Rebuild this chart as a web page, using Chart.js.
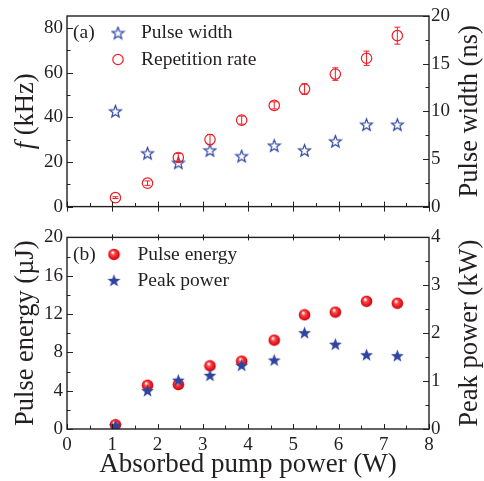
<!DOCTYPE html>
<html lang="en">
<head>
<meta charset="UTF-8">
<title>Pulse chart</title>
<script src="https://cdn.jsdelivr.net/npm/chart.js"></script>
<style>
  body { margin: 0; background: #fff; }
  #wrap { position: relative; width: 484px; height: 481px; }
  canvas { position: absolute; left: 0; }
</style>
</head>
<body>
<div id="wrap">
  <canvas id="topChart" width="484" height="222" style="top:0"></canvas>
  <canvas id="bottomChart" width="484" height="259" style="top:222px"></canvas>
</div>
<script>
// absorbed pump power (W), shared x values
const pumpPower = [1.07, 1.78, 2.46, 3.16, 3.86, 4.58, 5.25, 5.93, 6.62, 7.30];

// panel (a)
const repRate    = [4.0, 10.5, 22.0, 30.0, 38.7, 45.3, 52.6, 59.3, 66.4, 76.5]; // kHz
const repRateErr = [0.4, 1.0, 1.8, 2.3, 1.8, 1.6, 2.4, 2.8, 3.2, 3.8];
const pulseWidth = [10.0, 5.6, 4.6, 5.9, 5.3, 6.4, 5.9, 6.85, 8.6, 8.6];       // ns

// panel (b)
const pulseEnergy = [0.45, 4.57, 4.64, 6.6, 7.08, 9.28, 11.92, 12.2, 13.33, 13.13]; // uJ
const peakPower   = [0.07, 0.80, 1.02, 1.12, 1.33, 1.44, 2.01, 1.77, 1.55, 1.53];   // kW

// tick labels
const xTicks       = [0, 1, 2, 3, 4, 5, 6, 7, 8];
const repRateTicks = [0, 20, 40, 60, 80];
const widthTicks   = [0, 5, 10, 15, 20];
const energyTicks  = [0, 4, 8, 12, 16, 20];
const peakTicks    = [0, 1, 2, 3, 4];

const RED = '#ee1c24';
const BLUE = '#2f44a0';
const INK = '#231f20';
const SERIF = '"Liberation Serif", "Times New Roman", serif';

// marker images
function starCanvas(filled) {
  const c = document.createElement('canvas');
  c.width = 15; c.height = 15;
  const g = c.getContext('2d');
  const R = filled ? 6.8 : 6.3, r = R * 0.42;
  g.beginPath();
  for (let i = 0; i < 10; i++) {
    const a = -Math.PI / 2 + i * Math.PI / 5;
    const rad = i % 2 ? r : R;
    g.lineTo(7.5 + rad * Math.cos(a), 8 + rad * Math.sin(a));
  }
  g.closePath();
  if (filled) { g.fillStyle = BLUE; g.fill(); }
  else { g.strokeStyle = BLUE; g.lineWidth = 1.2; g.stroke(); }
  return c;
}
function sphereCanvas() {
  const c = document.createElement('canvas');
  c.width = 13; c.height = 13;
  const g = c.getContext('2d');
  const grad = g.createRadialGradient(5, 4.5, 0.5, 6.5, 6.5, 6);
  grad.addColorStop(0, '#ffffff');
  grad.addColorStop(0.3, '#ff4a4a');
  grad.addColorStop(0.75, '#e8101a');
  grad.addColorStop(1, '#b00008');
  g.fillStyle = grad;
  g.beginPath(); g.arc(6.5, 6.5, 5.8, 0, Math.PI * 2); g.fill();
  return c;
}
const starHollow = starCanvas(false);
const starFilled = starCanvas(true);
const sphere = sphereCanvas();

const pts = (ys) => pumpPower.map((x, i) => ({ x: x, y: ys[i] }));
const fixedTicks = (list) => (scale) => { scale.ticks = list.map(v => ({ value: v })); };
const tickFont = { family: SERIF, size: 19 };

// frame, inward ticks, error bars, titles and legend
const decor = {
  id: 'decor',
  afterDraw(chart) {
    const o = chart.options.plugins.decor;
    const ctx = chart.ctx, a = chart.chartArea;
    ctx.save();
    // error bars
    if (o.errors) {
      const ds = chart.data.datasets[o.errors.dataset];
      const ys = chart.scales[ds.yAxisID];
      const xs = chart.scales.x;
      ctx.strokeStyle = RED; ctx.lineWidth = 1;
      ds.data.forEach((p, i) => {
        const e = o.errors.values[i];
        const px = xs.getPixelForValue(p.x);
        const y1 = ys.getPixelForValue(p.y - e), y2 = ys.getPixelForValue(p.y + e);
        ctx.beginPath();
        ctx.moveTo(px, y1); ctx.lineTo(px, y2);
        ctx.moveTo(px - 3, y1); ctx.lineTo(px + 3, y1);
        ctx.moveTo(px - 3, y2); ctx.lineTo(px + 3, y2);
        ctx.stroke();
      });
    }
    // ticks
    ctx.strokeStyle = INK; ctx.lineWidth = 1;
    const minor = o.minor;
    const xs = chart.scales.x;
    for (let v = 0; v <= 8.001; v += minor.x) {
      const px = Math.round(xs.getPixelForValue(v)) + 0.5;
      const isMajor = Math.abs(v - Math.round(v)) < 1e-6;
      ctx.beginPath();
      if (isMajor) {
        ctx.moveTo(px, a.bottom + o.xTickOut); ctx.lineTo(px, a.bottom - 5);
        if (o.topTicks && v > 0 && v < 8) { ctx.moveTo(px, a.top - 3); ctx.lineTo(px, a.top + 3); }
      } else {
        ctx.moveTo(px, a.bottom); ctx.lineTo(px, a.bottom - 3.5);
      }
      ctx.stroke();
    }
    ['y', 'y2'].forEach(id => {
      const s = chart.scales[id];
      const step = minor[id];
      const major = step * 2;
      for (let v = 0; v <= s.max + 1e-6; v += step) {
        const py = Math.round(s.getPixelForValue(v)) + 0.5;
        const isMajor = Math.abs(v / major - Math.round(v / major)) < 1e-6;
        const len = isMajor ? 6 : 3.5;
        const x0 = id === 'y' ? a.left : a.right;
        const dir = id === 'y' ? 1 : -1;
        ctx.beginPath(); ctx.moveTo(x0, py); ctx.lineTo(x0 + dir * len, py); ctx.stroke();
      }
    });
    // frame
    ctx.lineWidth = 1.4;
    ctx.strokeRect(a.left, a.top, a.right - a.left, a.bottom - a.top);

    // axis titles
    ctx.fillStyle = INK;
    ctx.textBaseline = 'middle';
    const midY = (a.top + a.bottom) / 2;
    const vText = (x, parts) => {
      ctx.save();
      ctx.translate(x, midY);
      ctx.rotate(-Math.PI / 2);
      let total = 0;
      parts.forEach(p => { ctx.font = p.font; total += ctx.measureText(p.text).width; });
      let cx = -total / 2;
      ctx.textAlign = 'left';
      parts.forEach(p => { ctx.font = p.font; ctx.fillText(p.text, cx, 0); cx += ctx.measureText(p.text).width; });
      ctx.restore();
    };
    const tf = '26.5px ' + SERIF;
    vText(o.leftTitle.x, o.leftTitle.parts.map(p => ({ text: p.text, font: (p.italic ? 'italic ' : '') + tf })));
    vText(o.rightTitle.x, [{ text: o.rightTitle.text, font: tf }]);
    if (o.xTitle) {
      ctx.font = '27px ' + SERIF;
      ctx.textAlign = 'center';
      ctx.textBaseline = 'alphabetic';
      ctx.fillText(o.xTitle.text, (a.left + a.right) / 2, o.xTitle.y);
    }

    // legend
    ctx.font = '19.5px ' + SERIF;
    ctx.textAlign = 'left';
    ctx.textBaseline = 'middle';
    ctx.fillText(o.legend.tag, a.left + 6, a.top + o.legend.rows[0].dy);
    o.legend.rows.forEach(r => {
      const y = a.top + r.dy;
      const x = a.left + o.legend.markerDx;
      if (r.marker === 'circle') {
        ctx.strokeStyle = RED; ctx.lineWidth = 1.2;
        ctx.beginPath(); ctx.arc(x, y, 5.2, 0, Math.PI * 2); ctx.stroke();
      } else {
        ctx.drawImage(r.marker, x - r.marker.width / 2, y - r.marker.height / 2);
      }
      ctx.fillStyle = INK;
      ctx.fillText(r.label, a.left + o.legend.textDx, y);
    });
    ctx.restore();
  }
};

const xScale = (showLabels, height) => ({
  type: 'linear', min: 0, max: 8,
  afterBuildTicks: fixedTicks(xTicks),
  grid: { display: false, drawTicks: false },
  border: { display: false },
  ticks: { display: showLabels, font: tickFont, color: INK, padding: 5, maxRotation: 0 },
  afterFit: (s) => { s.height = height; }
});
const yScale = (pos, max, list, width) => ({
  type: 'linear', position: pos, min: 0, max: max,
  afterBuildTicks: fixedTicks(list),
  grid: { display: false, drawTicks: false },
  border: { display: false },
  ticks: { font: tickFont, color: INK, padding: pos === 'left' ? 4 : 2 },
  afterFit: (s) => { s.width = width; }
});

new Chart(document.getElementById('topChart'), {
  type: 'scatter',
  data: {
    datasets: [
      { label: 'Pulse width', data: pts(pulseWidth), yAxisID: 'y2',
        pointStyle: starHollow, pointRadius: 7 },
      { label: 'Repetition rate', data: pts(repRate), yAxisID: 'y',
        pointStyle: 'circle', pointRadius: 5.2, borderColor: RED, borderWidth: 1.2,
        backgroundColor: 'rgba(0,0,0,0)' }
    ]
  },
  options: {
    responsive: false, animation: false,
    layout: { padding: { top: 16, left: 0, right: 0, bottom: 0 } },
    scales: {
      x: xScale(false, 12),
      y: yScale('left', 85.3, repRateTicks, 67),
      y2: yScale('right', 20, widthTicks, 55)
    },
    plugins: {
      legend: { display: false },
      tooltip: { enabled: false },
      decor: {
        errors: { dataset: 1, values: repRateErr },
        minor: { x: 0.5, y: 10, y2: 2.5 },
        xTickOut: 5,
        leftTitle: { x: 26, parts: [{ text: 'f', italic: true }, { text: ' (kHz)' }] },
        rightTitle: { x: 470, text: 'Pulse width (ns)' },
        legend: { tag: '(a)', markerDx: 51, textDx: 74, rows: [
          { marker: starHollow, label: 'Pulse width', dy: 17 },
          { marker: 'circle', label: 'Repetition rate', dy: 43.5 }
        ] }
      }
    }
  },
  plugins: [decor]
});

new Chart(document.getElementById('bottomChart'), {
  type: 'scatter',
  data: {
    datasets: [
      { label: 'Peak power', data: pts(peakPower), yAxisID: 'y2',
        pointStyle: starFilled, pointRadius: 7 },
      { label: 'Pulse energy', data: pts(pulseEnergy), yAxisID: 'y',
        pointStyle: sphere, pointRadius: 6 }
    ]
  },
  options: {
    responsive: false, animation: false,
    layout: { padding: { top: 12, left: 0, right: 0, bottom: 0 } },
    scales: {
      x: xScale(true, 52),
      y: yScale('left', 20, energyTicks, 67),
      y2: yScale('right', 4, peakTicks, 55)
    },
    plugins: {
      legend: { display: false },
      tooltip: { enabled: false },
      decor: {
        minor: { x: 0.5, y: 2, y2: 0.5 },
        xTickOut: 0,
        topTicks: true,
        leftTitle: { x: 26, parts: [{ text: 'Pulse energy (\u00b5J)' }] },
        rightTitle: { x: 470, text: 'Peak power (kW)' },
        xTitle: { text: 'Absorbed pump power (W)', y: 250 },
        legend: { tag: '(b)', markerDx: 47, textDx: 70.5, rows: [
          { marker: sphere, label: 'Pulse energy', dy: 17 },
          { marker: starFilled, label: 'Peak power', dy: 43 }
        ] }
      }
    }
  },
  plugins: [decor]
});
</script>
</body>
</html>
